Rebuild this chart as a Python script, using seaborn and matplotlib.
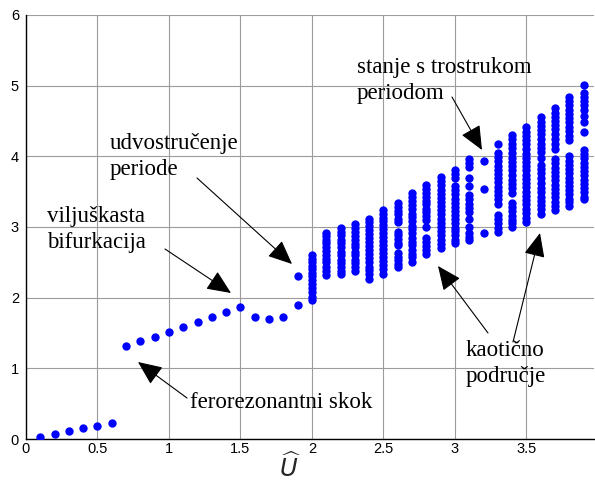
import numpy as np
import pandas as pd
import matplotlib
matplotlib.use("Agg")
import matplotlib.pyplot as plt
import seaborn as sns

# ---- data ----
# period-1 / period-2 region
x_reg = [0.1, 0.2, 0.3, 0.4, 0.5, 0.6, 0.7, 0.8, 0.9, 1.0, 1.1, 1.2, 1.3,
         1.4, 1.5, 1.6, 1.7, 1.8, 1.9, 1.9]
y_reg = [0.03, 0.07, 0.11, 0.15, 0.19, 0.23, 1.32, 1.39, 1.45, 1.52, 1.59,
         1.66, 1.73, 1.80, 1.87, 1.73, 1.70, 1.73, 1.89, 2.31]

# chaotic columns (x value -> y values)
col_20 = [2.60, 2.55, 2.50, 2.45, 2.40, 2.35, 2.30, 2.25, 2.20, 2.13, 2.08, 2.01, 1.96]
col_21 = [2.92, 2.87, 2.82, 2.77, 2.71, 2.66, 2.61, 2.55, 2.50, 2.44, 2.38, 2.32]
col_22 = [2.99, 2.93, 2.88, 2.82, 2.77, 2.71, 2.65, 2.60, 2.54, 2.49, 2.43, 2.38, 2.33]
col_23 = [3.04, 2.98, 2.93, 2.87, 2.82, 2.76, 2.71, 2.65, 2.60, 2.54, 2.49, 2.43, 2.38]
col_24 = [3.12, 3.07, 3.01, 2.96, 2.90, 2.84, 2.79, 2.73, 2.67, 2.62, 2.56, 2.50,
          2.44, 2.39, 2.33, 2.27]
col_25 = [3.24, 3.18, 3.13, 3.08, 3.03, 2.97, 2.92, 2.86, 2.80, 2.75, 2.69, 2.63,
          2.57, 2.52, 2.46, 2.40, 2.34]
col_26 = [3.34, 3.29, 3.23, 3.18, 3.12, 3.07, 2.93, 2.88, 2.83, 2.78, 2.74, 2.63,
          2.58, 2.53, 2.48, 2.44]
col_27 = [3.48, 3.42, 3.37, 3.31, 3.25, 3.19, 3.14, 3.08, 3.02, 2.97, 2.91, 2.85,
          2.79, 2.74, 2.68, 2.62, 2.57, 2.51]
col_28 = [3.59, 3.54, 3.48, 3.43, 3.37, 3.32, 3.26, 3.21, 3.15, 3.10, 3.00, 2.84,
          2.79, 2.73, 2.67, 2.62]
col_29 = [3.71, 3.65, 3.59, 3.53, 3.47, 3.41, 3.36, 3.30, 3.24, 3.18, 3.12, 3.06,
          3.00, 2.94, 2.88, 2.82, 2.76, 2.70]
col_30 = [3.81, 3.75, 3.69, 3.58, 3.52, 3.46, 3.40, 3.34, 3.28, 3.23, 3.17, 3.11,
          3.05, 2.99, 2.94, 2.88, 2.82, 2.77]
col_31 = [3.96, 3.91, 3.85, 3.69, 3.58, 3.45, 3.39, 3.33, 3.27, 3.21, 3.12, 3.00,
          2.91, 2.86, 2.81]
col_32 = [3.94, 3.54, 2.91]
col_33 = [4.17, 4.05, 3.99, 3.93, 3.87, 3.81, 3.75, 3.69, 3.63, 3.57, 3.51, 3.45,
          3.39, 3.33, 3.17, 3.11, 3.05, 2.99, 2.93]
col_34 = [4.30, 4.24, 4.18, 4.12, 4.05, 3.98, 3.92, 3.86, 3.80, 3.74, 3.67, 3.61,
          3.55, 3.48, 3.34, 3.28, 3.22, 3.16, 3.10, 3.05, 3.00]
col_35 = [4.41, 4.35, 4.29, 4.23, 4.17, 4.10, 4.04, 3.98, 3.92, 3.86, 3.80, 3.74,
          3.68, 3.62, 3.56, 3.50, 3.44, 3.38, 3.32, 3.26, 3.20, 3.13, 3.07]
col_36 = [4.55, 4.49, 4.43, 4.37, 4.31, 4.24, 4.18, 4.12, 4.06, 3.97, 3.88, 3.82,
          3.76, 3.69, 3.62, 3.55, 3.49, 3.43, 3.37, 3.31, 3.25, 3.19]
col_37 = [4.68, 4.62, 4.56, 4.50, 4.44, 4.38, 4.31, 4.25, 4.18, 4.11, 3.96, 3.90,
          3.84, 3.78, 3.72, 3.66, 3.60, 3.54, 3.48, 3.42, 3.36, 3.30, 3.24]
col_38 = [4.84, 4.78, 4.72, 4.66, 4.60, 4.54, 4.48, 4.42, 4.36, 4.29, 4.23, 4.00,
          3.94, 3.88, 3.82, 3.76, 3.70, 3.64, 3.58, 3.52, 3.46, 3.40, 3.35, 3.30]
col_39 = [5.01, 4.90, 4.84, 4.78, 4.72, 4.66, 4.57, 4.48, 4.35, 4.09, 4.03, 3.97,
          3.91, 3.85, 3.79, 3.73, 3.67, 3.61, 3.55, 3.49, 3.43, 3.40]

col_x = [2.0, 2.1, 2.2, 2.3, 2.4, 2.5, 2.6, 2.7, 2.8, 2.9, 3.0, 3.1, 3.2, 3.3,
         3.4, 3.5, 3.6, 3.7, 3.8, 3.9]
col_y = [col_20, col_21, col_22, col_23, col_24, col_25, col_26, col_27, col_28,
         col_29, col_30, col_31, col_32, col_33, col_34, col_35, col_36, col_37,
         col_38, col_39]

x_ticks = [0, 0.5, 1, 1.5, 2, 2.5, 3, 3.5]
x_tick_labels = ["0", "0.5", "1", "1.5", "2", "2.5", "3", "3.5"]
y_ticks = [0, 1, 2, 3, 4, 5, 6]

# ---- build table ----
xs = list(x_reg)
ys = list(y_reg)
for cx, cy in zip(col_x, col_y):
    xs += [cx] * len(cy)
    ys += cy
df = pd.DataFrame({"U": xs, "V": ys})

# ---- figure ----
sns.set_style("white")
plt.rcParams["font.family"] = ["Liberation Sans", "DejaVu Sans"]

W, H = 595, 486
fig = plt.figure(figsize=(W / 100, H / 100), dpi=100)
ax = fig.add_axes([26 / W, 47 / H, (593.7 - 26) / W, (439 - 15) / H])

sns.scatterplot(data=df, x="U", y="V", color=(0, 0, 1), s=36, linewidth=0,
                ax=ax, zorder=3, legend=False)

ax.set_xlim(0, 3.97)
ax.set_ylim(0, 6)
ax.set_xticks(x_ticks)
ax.set_xticklabels(x_tick_labels)
ax.set_yticks(y_ticks)
ax.grid(True, color="#9c9c9c", lw=0.8, ls="-")
ax.set_axisbelow(True)
for s in ["top", "right"]:
    ax.spines[s].set_visible(False)
for s in ["left", "bottom"]:
    ax.spines[s].set_color("black")
    ax.spines[s].set_linewidth(1.0)
ax.tick_params(direction="in", length=4, width=0.8, labelsize=10.5,
               colors="black", pad=2)
ax.tick_params(axis="y", pad=5)
ax.set_ylabel("")
ax.set_xlabel(r"$\widehat{U}$", fontsize=17.5, labelpad=2)
ax.xaxis.set_label_coords((290 - 26) / (593.7 - 26), -0.034)

def fp(px, py):
    return (px / W, 1 - py / H)

txt = dict(family=["Liberation Serif", "DejaVu Serif"], fontsize=16.5,
           va="top", ha="left", linespacing=1.3, color="black")
arr = dict(arrowstyle="-|>,head_length=0.75,head_width=0.33", color="black",
           lw=0.8, mutation_scale=20, shrinkA=0, shrinkB=0)

labels = [
    ("stanje s trostrukom\nperiodom", (357, 57), (452, 97), [(482, 150)]),
    ("udvostručenje\nperiode", (110, 133), (197, 178), [(292, 264)]),
    ("viljuškasta\nbifurkacija", (47, 206), (165, 249), [(231, 293)]),
    ("ferorezonantni skok", (190, 392), (187, 398), [(138, 362)]),
    ("kaotično\npodručje", (466, 340), None, []),
]
for text, pos, tail, tips in labels:
    fig.text(*fp(*pos), text, **txt)
    for tip in tips:
        ax.annotate("", xy=fp(*tip), xycoords="figure fraction",
                    xytext=fp(*tail), textcoords="figure fraction",
                    arrowprops=arr)

# arrows from "kaotično područje"
for tail, tip in [((488, 333), (438, 266)), ((513, 342), (540, 233))]:
    ax.annotate("", xy=fp(*tip), xycoords="figure fraction",
                xytext=fp(*tail), textcoords="figure fraction",
                arrowprops=arr)

fig.savefig("out.png", dpi=100)
